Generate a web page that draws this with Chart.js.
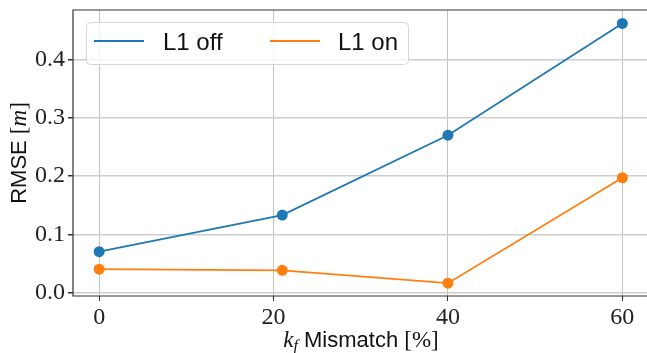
<!DOCTYPE html>
<html>
<head>
<meta charset="utf-8">
<script src="https://cdn.jsdelivr.net/npm/chart.js@4"></script>
<style>
  html, body { margin: 0; padding: 0; background: #fff; overflow: hidden; }
  #wrap { width: 654px; height: 353px; }
</style>
</head>
<body>
<div id="wrap"><canvas id="chart"></canvas></div>
<script>
// Data
const mismatch = [0, 21, 40, 60];
const rmseOff = [0.070, 0.133, 0.270, 0.462];
const rmseOn = [0.040, 0.038, 0.016, 0.197];
const seriesLabels = ['L1 off', 'L1 on'];
const seriesColors = ['#1f77b4', '#ff7f0e'];
const xTicks = [0, 20, 40, 60];
const yTicks = [0.0, 0.1, 0.2, 0.3, 0.4];

const serif = '"Liberation Serif", "DejaVu Serif", serif';
const sans = '"Liberation Sans", Arial, sans-serif';

// draw a line of text made of parts in different fonts, centred on x
function drawRich(ctx, parts, x, y) {
  let total = 0;
  parts.forEach(p => { ctx.font = p.font; total += ctx.measureText(p.text).width; });
  let cx = x - total / 2;
  ctx.textAlign = 'left';
  ctx.textBaseline = 'alphabetic';
  parts.forEach(p => {
    ctx.font = p.font;
    ctx.fillText(p.text, cx, y + (p.dy || 0));
    cx += ctx.measureText(p.text).width;
  });
}

// Frame (right side falls outside the window), axis titles
const framePlugin = {
  id: 'frame',
  beforeDatasetsDraw(chart) {
    const { ctx, chartArea: a } = chart;
    ctx.save();
    ctx.strokeStyle = '#333';
    ctx.lineWidth = 1.2;
    ctx.beginPath();
    ctx.moveTo(a.right, a.top);
    ctx.lineTo(a.left, a.top);
    ctx.lineTo(a.left, a.bottom);
    ctx.lineTo(a.right, a.bottom);
    ctx.stroke();
    ctx.restore();
  },
  afterDraw(chart) {
    const { ctx } = chart;
    ctx.save();
    ctx.fillStyle = '#111';
    // x title, centred under the visible plot
    drawRich(ctx, [
      { text: 'k', font: 'italic 23px ' + serif },
      { text: 'f', font: 'italic 16px ' + serif, dy: 4 },
      { text: ' Mismatch ', font: '22px ' + sans },
      { text: '[%]', font: '23px ' + serif }
    ], 361, 347);
    // y title
    ctx.translate(26, (chart.chartArea.top + chart.chartArea.bottom) / 2);
    ctx.rotate(-Math.PI / 2);
    drawRich(ctx, [
      { text: 'RMSE ', font: '22px ' + sans },
      { text: '[', font: '23px ' + serif },
      { text: 'm', font: 'italic 23px ' + serif },
      { text: ']', font: '23px ' + serif }
    ], 0, 0);
    ctx.restore();
  }
};

// Legend box in the upper left of the plot
const legendPlugin = {
  id: 'boxLegend',
  afterDatasetsDraw(chart) {
    const { ctx } = chart;
    ctx.save();
    ctx.fillStyle = 'rgba(255,255,255,0.8)';
    ctx.strokeStyle = '#d6d6d6';
    ctx.lineWidth = 1;
    ctx.beginPath();
    ctx.roundRect(86.5, 22.5, 322, 42, 4);
    ctx.fill();
    ctx.stroke();
    const items = [
      { x: 94, tx: 163 },
      { x: 270, tx: 338 }
    ];
    ctx.font = '24px ' + sans;
    ctx.textBaseline = 'middle';
    ctx.textAlign = 'left';
    items.forEach((it, i) => {
      ctx.strokeStyle = seriesColors[i];
      ctx.lineWidth = 1.8;
      ctx.beginPath();
      ctx.moveTo(it.x, 41);
      ctx.lineTo(it.x + 50, 41);
      ctx.stroke();
      ctx.fillStyle = '#111';
      ctx.fillText(seriesLabels[i], it.tx, 43);
    });
    ctx.restore();
  }
};

const chart = new Chart(document.getElementById('chart'), {
  type: 'line',
  data: {
    datasets: [rmseOff, rmseOn].map((vals, i) => ({
      label: seriesLabels[i],
      data: mismatch.map((x, j) => ({ x: x, y: vals[j] })),
      borderColor: seriesColors[i],
      backgroundColor: seriesColors[i],
      borderWidth: 1.8,
      pointRadius: 5.5,
      pointBorderWidth: 0,
      pointBackgroundColor: seriesColors[i],
      tension: 0
    }))
  },
  options: {
    responsive: true,
    maintainAspectRatio: false,
    animation: false,
    layout: { padding: { top: 10, right: 1, left: 0, bottom: 0 } },
    plugins: { legend: { display: false }, tooltip: { enabled: false } },
    scales: {
      x: {
        type: 'linear',
        min: -3,
        max: 63,
        afterBuildTicks: s => { s.ticks = xTicks.map(v => ({ value: v })); },
        afterFit: s => { s.height = 57; s.paddingLeft = 0; s.paddingRight = 0; },
        grid: { color: '#c4c4c4', lineWidth: 1, tickColor: '#333', tickLength: 5 },
        border: { display: false },
        ticks: {
          color: '#222',
          padding: 2,
          maxRotation: 0,
          font: { family: serif, size: 24 },
          callback: v => String(v)
        }
      },
      y: {
        type: 'linear',
        min: -0.006,
        max: 0.485,
        afterBuildTicks: s => { s.ticks = yTicks.map(v => ({ value: v })); },
        afterFit: s => { s.width = 73; s.paddingTop = 0; s.paddingBottom = 0; },
        grid: { color: '#cdcdcd', lineWidth: 1.5, tickColor: '#333', tickLength: 5 },
        border: { display: false },
        ticks: {
          color: '#222',
          padding: 3,
          font: { family: serif, size: 24 },
          callback: v => v.toFixed(1)
        }
      }
    }
  },
  plugins: [framePlugin, legendPlugin]
});
</script>
</body>
</html>
